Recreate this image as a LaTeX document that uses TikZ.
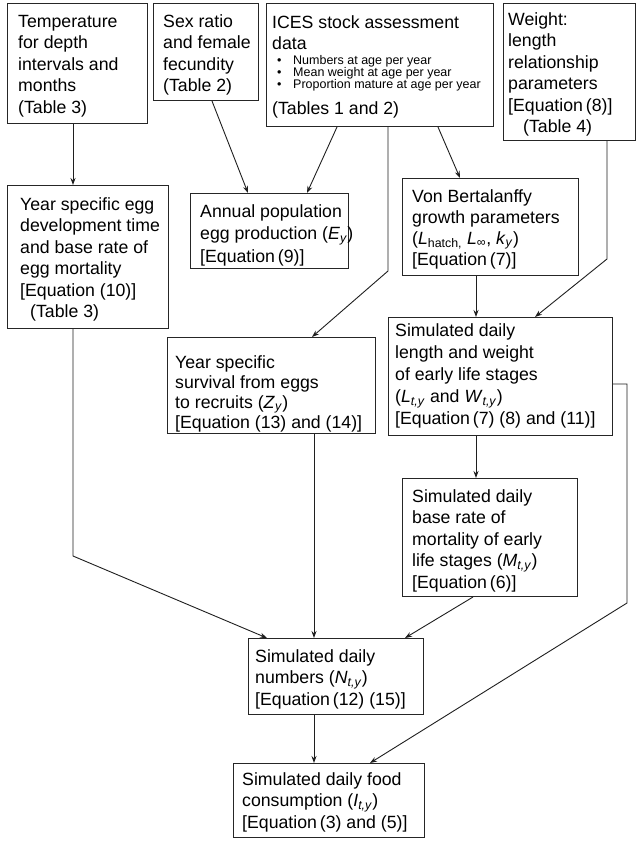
\documentclass[tikz,border=0pt]{standalone}
\usepackage{fontspec}
\setmainfont{Liberation Sans}
\usetikzlibrary{arrows.meta}
\newcommand\vi[2]{\textit{#1}\textsubscript{\textit{#2}}}
\newcommand\vu[2]{\textit{#1}\textsubscript{#2}}
\tikzset{
  box/.style={draw=black!85, line width=1pt, rectangle, anchor=north west,
    inner sep=0pt},
  txt/.style={anchor=base west, inner sep=0pt, align=left, text width=300pt,
    font=\fontsize{17.7}{21.5}\selectfont,
    execute at begin node={\spaceskip=0pt\xspaceskip=0pt\relax}},
  arr/.style={draw=black!88, line width=0.9pt, -{Stealth[length=7pt,width=5pt]}},
}
\newcommand\bul{\hspace*{5pt}\makebox[16pt][l]{\textbullet}}
\begin{document}
\begin{tikzpicture}[x=1pt,y=-1pt]
\fill[white] (0,0) rectangle (636,841);
\useasboundingbox (0,0) rectangle (636,841);

% boxes
\node[box, minimum width=140pt, minimum height=120pt] (A) at (7,3) {};
\node[box, minimum width=105pt, minimum height=97pt]  (B) at (153,3) {};
\node[box, minimum width=227pt, minimum height=123pt] (C) at (266,3) {};
\node[box, minimum width=132pt, minimum height=137pt] (D) at (503,3) {};
\node[box, minimum width=161pt, minimum height=143pt] (E) at (7,185) {};
\node[box, minimum width=158pt, minimum height=75pt]  (F) at (190,193) {};
\node[box, minimum width=208pt, minimum height=96pt]  (G) at (167,337) {};
\node[box, minimum width=176pt, minimum height=97pt]  (H) at (402,178) {};
\node[box, minimum width=224pt, minimum height=118pt] (I) at (388,317) {};
\node[box, minimum width=175pt, minimum height=118pt] (J) at (402,478) {};
\node[box, minimum width=175pt, minimum height=76pt]  (K) at (248,638) {};
\node[box, minimum width=191pt, minimum height=74pt]  (L) at (233,763) {};

% texts
\node[txt] (At) at ([shift={(11,24)}]A.north west)
  {Temperature\\for depth\\intervals and\\months\\(Table 3)};
\node[txt] (Bt) at ([shift={(10,24)}]B.north west)
  {Sex ratio\\and female\\fecundity\\(Table 2)};
\node[txt] (Ct) at ([shift={(6,25)}]C.north west)
  {ICES stock assessment\\data\par
   \vspace{2.5pt}
   {\fontsize{12.5}{12.2}\selectfont
   \bul Numbers at age per year\\
   \bul Mean weight at age per year\\
   \bul Proportion mature at age per year\par}
   \vspace{4.5pt}
   (Tables 1 and 2)};
\node[txt] (Dt) at ([shift={(5,22)}]D.north west)
  {Weight:\\length\\relationship\\parameters\\{}[Equation\,(8)]\\\hspace*{15pt}(Table 4)};
\node[txt] (Et) at ([shift={(13,25)}]E.north west)
  {Year specific egg\\development time\\and base rate of\\egg mortality\\{}[Equation (10)]\\\hspace*{10pt}(Table 3)};
\node[txt, font=\fontsize{17.7}{22.5}\selectfont] (Ft) at ([shift={(10,24)}]F.north west)
  {Annual population\\egg production (\vi{E}{y})\\{}[Equation\,(9)]};
\node[txt, font=\fontsize{17.7}{20}\selectfont] (Gt) at ([shift={(8,31)}]G.north west)
  {Year specific\\survival from eggs\\to recruits (\vi{Z}{y})\\{}[Equation (13) and (14)]};
\node[txt, font=\fontsize{17.7}{21}\selectfont] (Ht) at ([shift={(10,24)}]H.north west)
  {Von Bertalanffy\\growth parameters\\(\vu{L}{hatch,} \vu{L}{∞}, \vi{k}{y})\\{}[Equation\,(7)]};
\node[txt, font=\fontsize{17.7}{22.2}\selectfont] (It) at ([shift={(7,19)}]I.north west)
  {Simulated daily\\length and weight\\of early life stages\\(\vi{L}{t,y} and \vi{W}{t,y})\\{}[Equation\,(7) (8) and (11)]};
\node[txt] (Jt) at ([shift={(10,24)}]J.north west)
  {Simulated daily\\base rate of\\mortality of early\\life stages (\vi{M}{t,y})\\{}[Equation\,(6)]};
\node[txt] (Kt) at ([shift={(7,24)}]K.north west)
  {Simulated daily\\numbers (\vi{N}{t,y})\\{}[Equation\,(12) (15)]};
\node[txt] (Lt) at ([shift={(9,22)}]L.north west)
  {Simulated daily food\\consumption (\vi{I}{t,y})\\{}[Equation\,(3) and (5)]};

% connectors
\draw[arr] ([xshift=66pt]A.south west) -- ([xshift=66pt]E.north west);
\draw[arr] ([xshift=59pt]B.south west) -- ([xshift=58pt]F.north west);
\draw[arr] ([xshift=71pt]C.south west) -- ([xshift=117pt]F.north west);
\draw[arr] ([xshift=122pt]C.south west) -- ++(0,144) -- ([xshift=145pt]G.north west);
\draw[arr] ([xshift=172pt]C.south west) -- ([xshift=58pt]H.north west);
\draw[arr] ([xshift=104pt]D.south west) -- ++(0,118) -- ([xshift=147pt]I.north west);
\draw[arr] ([xshift=74pt]H.south west) -- ([xshift=88pt]I.north west);
\draw[arr] ([xshift=88pt]I.south west) -- ([xshift=74pt]J.north west);
\draw[arr] ([yshift=52pt]I.south east) -- ++(14,0) -- ++(0,219) -- ([xshift=137pt]L.north west);
\draw[arr] ([xshift=66pt]E.south west) -- ++(0,227) -- ([xshift=19pt]K.north west);
\draw[arr] ([xshift=147pt]G.south west) -- ([xshift=66pt]K.north west);
\draw[arr] ([xshift=71pt]J.south west) -- ([xshift=157pt]K.north west);
\draw[arr] ([xshift=66pt]K.south west) -- ([xshift=81pt]L.north west);
\end{tikzpicture}
\end{document}
